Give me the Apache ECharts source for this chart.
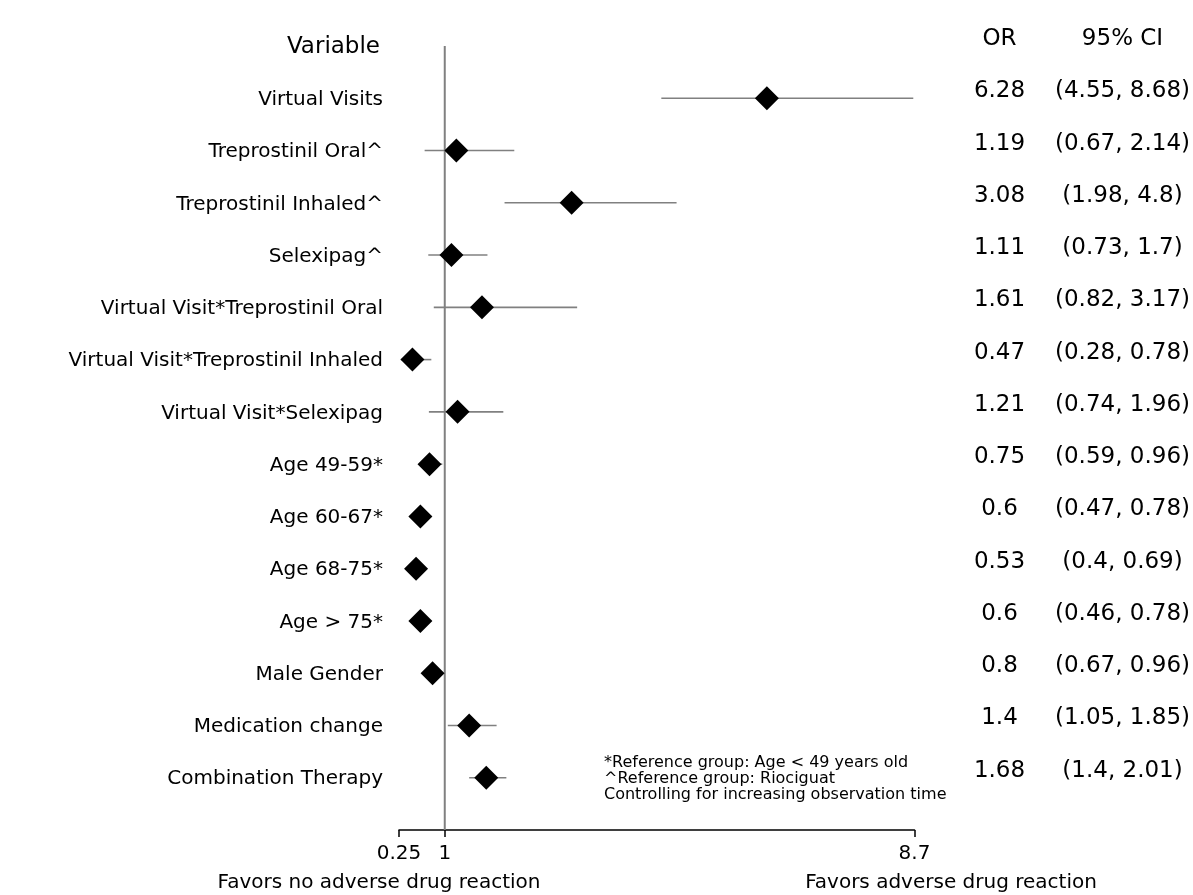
<!DOCTYPE html>
<html>
<head>
<meta charset="utf-8">
<script src="https://cdn.jsdelivr.net/npm/echarts@6/dist/echarts.min.js"></script>
<style>
  html, body { margin: 0; padding: 0; background: #fff; }
  #chart { width: 1193px; height: 895px; }
</style>
</head>
<body>
<div id="chart"></div>
<script>
const labels = [
  'Virtual Visits',
  'Treprostinil Oral^',
  'Treprostinil Inhaled^',
  'Selexipag^',
  'Virtual Visit*Treprostinil Oral',
  'Virtual Visit*Treprostinil Inhaled',
  'Virtual Visit*Selexipag',
  'Age 49-59*',
  'Age 60-67*',
  'Age 68-75*',
  'Age > 75*',
  'Male Gender',
  'Medication change',
  'Combination Therapy'
];
const orVals = [6.28, 1.19, 3.08, 1.11, 1.61, 0.47, 1.21, 0.75, 0.6, 0.53, 0.6, 0.8, 1.4, 1.68];
const ciLow  = [4.55, 0.67, 1.98, 0.73, 0.82, 0.28, 0.74, 0.59, 0.47, 0.4, 0.46, 0.67, 1.05, 1.4];
const ciHigh = [8.68, 2.14, 4.8, 1.7, 3.17, 0.78, 1.96, 0.96, 0.78, 0.69, 0.78, 0.96, 1.85, 2.01];
const xTicks = [0.25, 1, 8.7];
const headers = { variable: 'Variable', or: 'OR', ci: '95% CI' };
const xNames = ['Favors no adverse drug reaction', 'Favors adverse drug reaction'];
const footnotes = [
  '*Reference group: Age < 49 years old',
  '^Reference group: Riociguat',
  'Controlling for increasing observation time'
];

const FONT = '"DejaVu Sans", sans-serif';
const chart = echarts.init(document.getElementById('chart'), null, { renderer: 'canvas' });

const whiskerData = labels.map((_, i) => [ciLow[i], ciHigh[i], i]);
const pointData = labels.map((_, i) => [orVals[i], i]);

const option = {
  animation: false,
  backgroundColor: '#ffffff',
  textStyle: { fontFamily: FONT, color: '#000' },
  grid: { left: 399, right: 276, top: 46, bottom: 65, containLabel: false },
  xAxis: {
    type: 'value',
    min: 0.25,
    max: 8.7,
    position: 'bottom',
    splitLine: { show: false },
    axisLine: { show: true, onZero: false, lineStyle: { color: '#000', width: 1.5 } },
    axisTick: { show: true, customValues: xTicks, length: 7, lineStyle: { color: '#000', width: 1.5 } },
    axisLabel: {
      show: true,
      customValues: xTicks,
      formatter: v => String(v),
      fontSize: 20,
      fontFamily: FONT,
      color: '#000',
      margin: 14
    }
  },
  yAxis: [
    {
      type: 'value',
      min: -1,
      max: 14,
      interval: 1,
      inverse: true,
      position: 'left',
      splitLine: { show: false },
      axisLine: { show: false, onZero: false },
      axisTick: { show: false },
      axisLabel: {
        show: true,
        margin: 16,
        padding: [3, 0, 0, 0],
        fontSize: 20,
        fontFamily: FONT,
        color: '#000',
        formatter: v => {
          if (v === -1) return '{h|' + headers.variable + '}';
          if (v >= 0 && v < labels.length) return labels[v];
          return '';
        },
        rich: {
          h: { fontSize: 23, fontFamily: FONT, color: '#000', padding: [0, 3, 0, 0] }
        }
      }
    },
    {
      type: 'value',
      min: -1,
      max: 14,
      interval: 1,
      inverse: true,
      position: 'right',
      splitLine: { show: false },
      axisLine: { show: false, onZero: false },
      axisTick: { show: false },
      axisLabel: {
        show: true,
        margin: 40,
        padding: [0, 0, 14, 0],
        fontFamily: FONT,
        color: '#000',
        formatter: v => {
          if (v === -1) return '{or|' + headers.or + '}{ci|' + headers.ci + '}';
          if (v >= 0 && v < labels.length) {
            return '{or|' + orVals[v] + '}{ci|(' + ciLow[v] + ', ' + ciHigh[v] + ')}';
          }
          return '';
        },
        rich: {
          or: { width: 90, align: 'center', fontSize: 23, fontFamily: FONT, color: '#000' },
          ci: { width: 156, align: 'center', fontSize: 23, fontFamily: FONT, color: '#000' }
        }
      }
    }
  ],
  series: [
    {
      type: 'line',
      data: [[1, -1], [1, 14]],
      symbol: 'none',
      lineStyle: { color: '#808080', width: 2 },
      silent: true,
      z: 1
    },
    {
      type: 'custom',
      data: whiskerData,
      encode: { x: [0, 1], y: 2 },
      renderItem: (params, api) => {
        const i = api.value(2);
        const p1 = api.coord([api.value(0), i]);
        const p2 = api.coord([api.value(1), i]);
        return {
          type: 'line',
          shape: { x1: p1[0], y1: p1[1], x2: p2[0], y2: p2[1] },
          style: { stroke: '#808080', lineWidth: 1.6 }
        };
      },
      silent: true,
      z: 2
    },
    {
      type: 'scatter',
      data: pointData,
      symbol: 'diamond',
      symbolSize: [24, 24],
      itemStyle: { color: '#000', opacity: 1 },
      silent: true,
      z: 3
    }
  ],
  graphic: [
    {
      type: 'text',
      style: {
        text: xNames[0], x: 379, y: 883, align: 'center', verticalAlign: 'middle',
        font: '20px ' + FONT, fill: '#000'
      }
    },
    {
      type: 'text',
      style: {
        text: xNames[1], x: 951, y: 883, align: 'center', verticalAlign: 'middle',
        font: '20px ' + FONT, fill: '#000'
      }
    },
    {
      type: 'text',
      style: {
        text: footnotes.join('\n'), x: 604, y: 755, align: 'left', verticalAlign: 'top',
        font: '16px ' + FONT, lineHeight: 16, fill: '#000'
      }
    }
  ]
};
chart.setOption(option);
</script>
</body>
</html>
